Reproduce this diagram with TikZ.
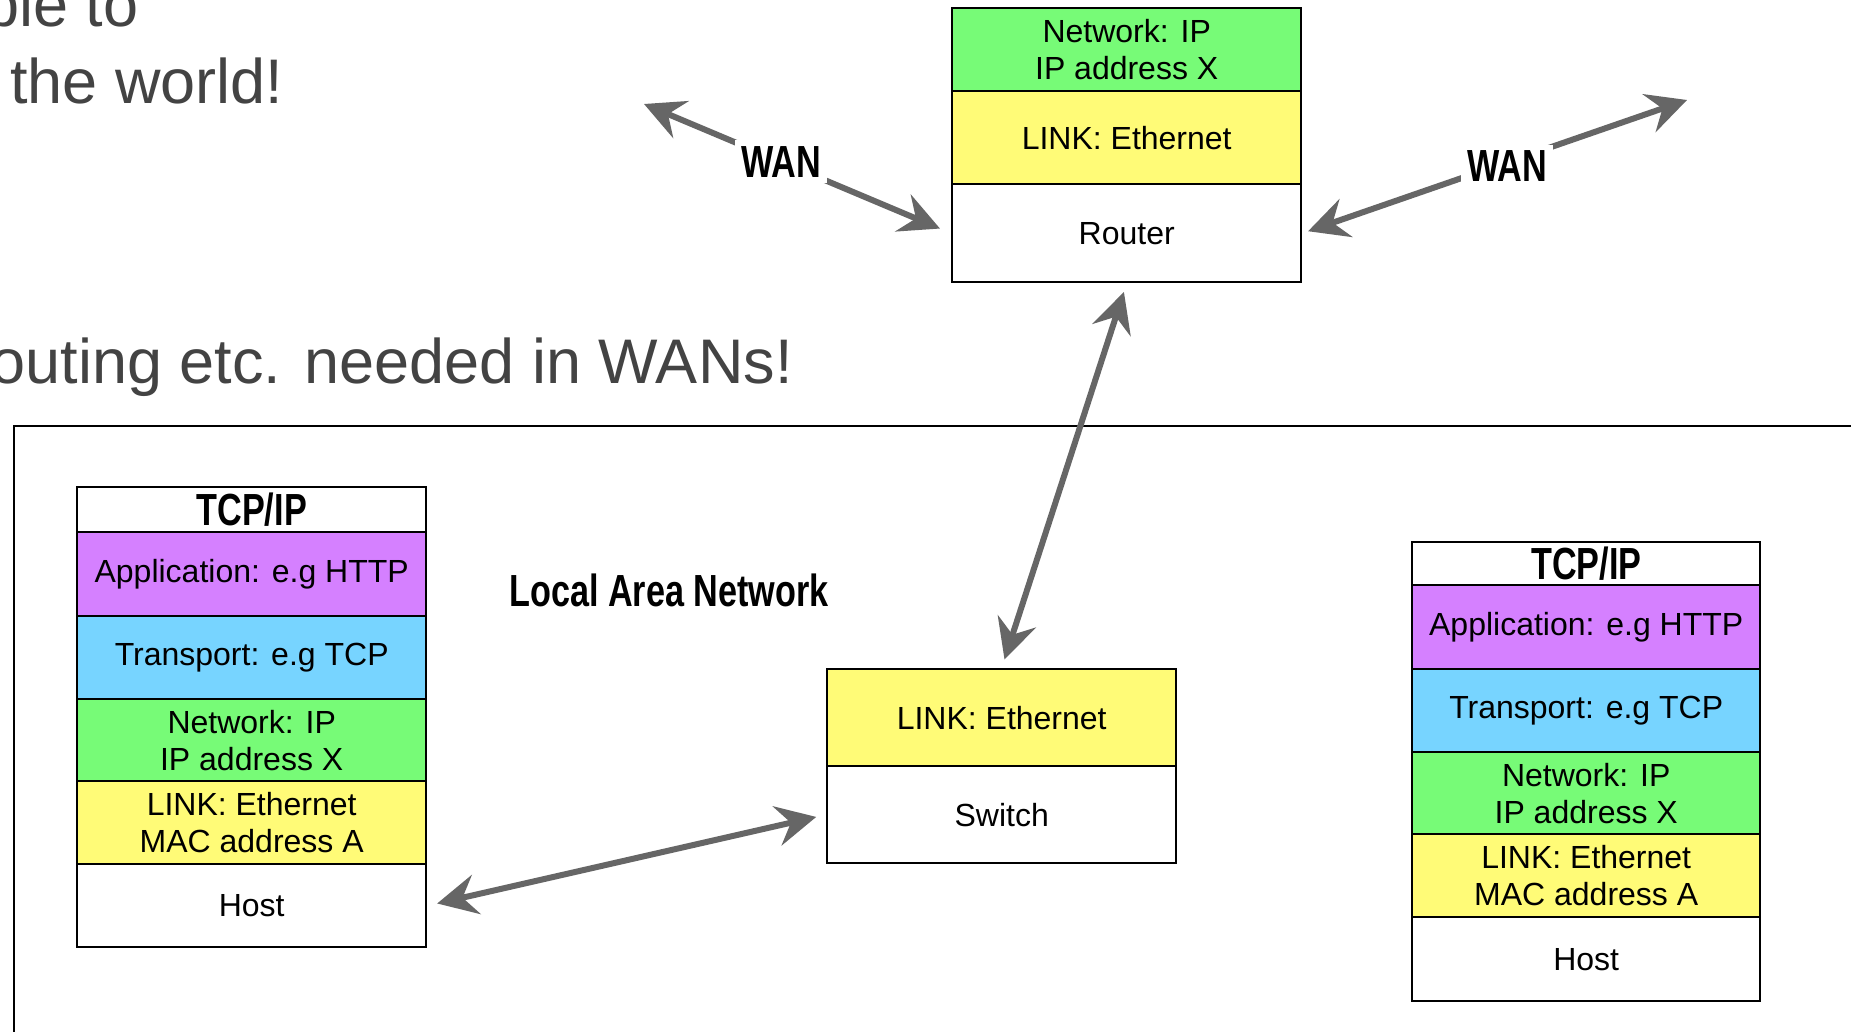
\documentclass[tikz,border=0pt]{standalone}
\usepackage{fontspec}
\setmainfont{Liberation Sans}
\newfontfamily\condb{Liberation Sans}[FakeStretch=0.76]
\usetikzlibrary{arrows.meta}
\definecolor{purp}{HTML}{D580FF}
\definecolor{blu}{HTML}{77D4FF}
\definecolor{grn}{HTML}{77FB77}
\definecolor{ylw}{HTML}{FFFB77}
\definecolor{arrowgray}{HTML}{666666}
\definecolor{headgray}{HTML}{434343}
\tikzset{
  row/.style={draw=black, line width=1.2pt, minimum width=174.5pt, inner sep=0pt,
    anchor=north west, align=center, font=\fontsize{16}{18.5}\selectfont},
  hdr/.style={row, font=\condb\bfseries\fontsize{22.5}{24}\selectfont},
  bigtxt/.style={text=headgray, inner sep=0pt, font=\fontsize{31.5}{36}\selectfont},
  boldlbl/.style={inner sep=0pt, font=\condb\bfseries\fontsize{22.5}{24}\selectfont},
  wanlbl/.style={fill=white, inner sep=3pt, font=\condb\bfseries\fontsize{22.5}{24}\selectfont},
  arr/.style={draw=arrowgray, line width=3pt,
    {Stealth[length=20pt,width=20pt,inset=7pt]}-{Stealth[length=20pt,width=20pt,inset=7pt]}},
}
\begin{document}
\begin{tikzpicture}[x=0.5pt,y=-0.5pt]
\useasboundingbox (0,0) rectangle (1851,1032);
\clip (0,0) rectangle (1851,1032);
\fill[white] (0,0) rectangle (1851,1032);

% slide text fragments
\node[bigtxt, anchor=base east] (t1) at (139,27) {ble to};
\node[bigtxt, anchor=base west] (t2) at (10,104) {the world!};
\node[bigtxt, anchor=base east] (t3) at (793,383) {outing etc. needed in WANs!};

% LAN boundary
\draw[line width=1pt] (14,1040) -- (14,426) -- (1860,426);
\node[boldlbl, anchor=west] (lan) at (509,590) {Local Area Network};

% Left host stack
\node[hdr, minimum height=22.5pt] (lhdr) at (76,486) {TCP/IP};
\node[row, fill=purp, minimum height=42pt] (lapp) at (76,531) {Application: e.g HTTP};
\node[row, fill=blu, minimum height=41.5pt] (ltra) at (76,615) {Transport: e.g TCP};
\node[row, fill=grn, minimum height=41pt] (lnet) at (76,698) {Network: IP\\IP address X};
\node[row, fill=ylw, minimum height=41.5pt] (llink) at (76,780) {LINK: Ethernet\\MAC address A};
\node[row, fill=white, minimum height=41.5pt] (lhost) at (76,863) {Host};

% Right host stack
\node[hdr, minimum width=174pt, minimum height=21.5pt] (rhdr) at (1411,541) {TCP/IP};
\node[row, minimum width=174pt, fill=purp, minimum height=42pt] (rapp) at (1411,584) {Application: e.g HTTP};
\node[row, minimum width=174pt, fill=blu, minimum height=41.5pt] (rtra) at (1411,668) {Transport: e.g TCP};
\node[row, minimum width=174pt, fill=grn, minimum height=41pt] (rnet) at (1411,751) {Network: IP\\IP address X};
\node[row, minimum width=174pt, fill=ylw, minimum height=41.5pt] (rlink) at (1411,833) {LINK: Ethernet\\MAC address A};
\node[row, minimum width=174pt, fill=white, minimum height=42pt] (rhost) at (1411,916) {Host};

% Switch
\node[row, fill=ylw, minimum height=48.5pt] (swlink) at (826,668) {LINK: Ethernet};
\node[row, fill=white, minimum height=48.5pt] (swdev) at (826,765) {Switch};

% Router
\node[row, fill=grn, minimum height=41.5pt] (rtnet) at (951,7) {Network: IP\\IP address X};
\node[row, fill=ylw, minimum height=46.5pt] (rtlink) at (951,90) {LINK: Ethernet};
\node[row, fill=white, minimum height=49pt] (rtdev) at (951,183) {Router};

% free ends of WAN arrows
\coordinate (wanl) at (644,104);
\coordinate (wanr) at (1687,100);

% connectors
\draw[arr, shorten <=5pt, shorten >=5pt] (lhost.east) -- (swdev.west);
\draw[arr, shorten <=4.5pt, shorten >=4.5pt] (rtdev.south) -- (swlink.north);
\draw[arr, shorten >=6pt] (wanl) -- node[wanlbl, pos=0.446] (wanllbl) {WAN} (rtdev.west);
\draw[arr, shorten <=3pt] (rtdev.east) -- node[wanlbl, pos=0.532, yshift=-2pt] (wanrlbl) {WAN} (wanr);
\end{tikzpicture}
\end{document}
